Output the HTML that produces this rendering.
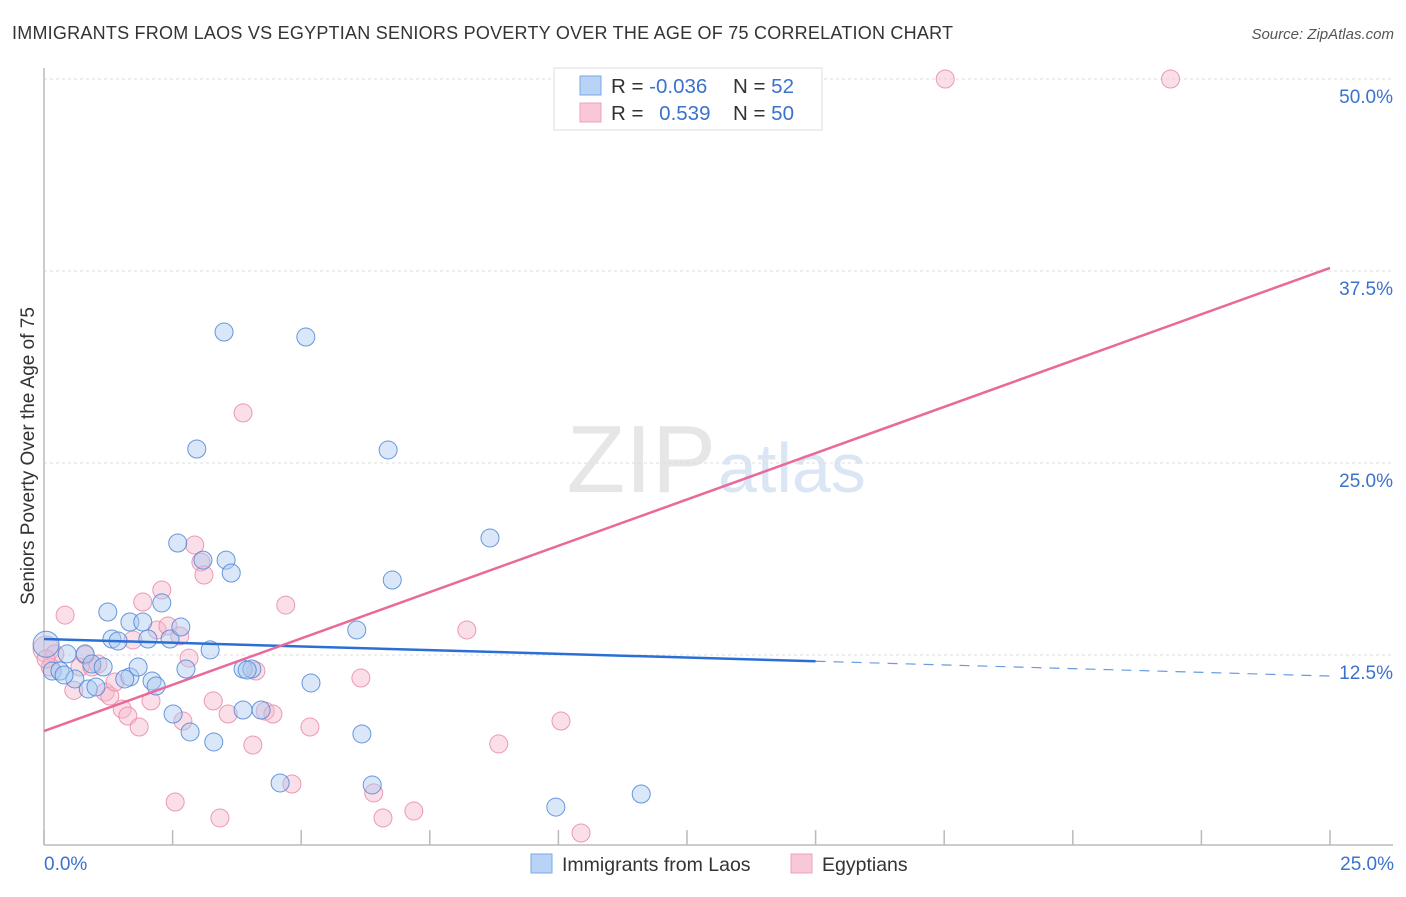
<!DOCTYPE html>
<html><head><meta charset="utf-8"><style>
body{margin:0;background:#fff;font-family:"Liberation Sans",sans-serif;}
svg text{font-family:"Liberation Sans",sans-serif;}
</style></head><body>
<svg id="chart" width="1406" height="892">
<text x="12" y="39" font-size="18" fill="#333" textLength="941">IMMIGRANTS FROM LAOS VS EGYPTIAN SENIORS POVERTY OVER THE AGE OF 75 CORRELATION CHART</text>
<text x="1394" y="39" font-size="15" fill="#555" font-style="italic" text-anchor="end">Source: ZipAtlas.com</text>
<text x="716" y="492" font-size="96" fill="#e6e6e6" text-anchor="end" font-family="Liberation Serif">ZIP</text>
<text x="718" y="492" font-size="70" fill="#dbe6f4">atlas</text>
<g id="grid"></g>
<g id="axes"></g>
<g id="pts"></g>
<g id="lines"></g>
<text transform="translate(34,456) rotate(-90)" font-size="19" fill="#333" text-anchor="middle">Seniors Poverty Over the Age of 75</text>
<text x="44" y="870" font-size="19" fill="#3a72cc">0.0%</text>
<text x="1394" y="870" font-size="19" fill="#3a72cc" text-anchor="end">25.0%</text>
<g>
<rect x="554" y="68" width="268" height="62" fill="#fff" stroke="#ddd"/>
<rect x="580" y="76" width="21" height="19" fill="#b8d3f5" stroke="#7aaae8"/>
<rect x="580" y="103" width="21" height="19" fill="#f9c8d7" stroke="#eea2b9"/>
<text x="611" y="93" font-size="20.5" fill="#333">R = <tspan fill="#3a72cc">-0.036</tspan></text>
<text x="733" y="93" font-size="20.5" fill="#333">N = <tspan fill="#3a72cc">52</tspan></text>
<text x="611" y="120" font-size="20.5" fill="#333">R = <tspan fill="#3a72cc" dx="10">0.539</tspan></text>
<text x="733" y="120" font-size="20.5" fill="#333">N = <tspan fill="#3a72cc">50</tspan></text>
</g>
<g>
<rect x="531" y="854" width="21" height="19" fill="#b8d3f5" stroke="#7aaae8"/>
<text x="562" y="871" font-size="19.5" fill="#333">Immigrants from Laos</text>
<rect x="791" y="854" width="21" height="19" fill="#f9c8d7" stroke="#eea2b9"/>
<text x="822" y="871" font-size="19.5" fill="#333">Egyptians</text>
</g>
</svg>
<script>
const yTicks=[12.5,25,37.5,50];
const yTickLabels=["12.5%","25.0%","37.5%","50.0%"];
const xTicks=[0,2.5,5,7.5,10,12.5,15,17.5,20,22.5,25];
const laosX=[0.04,0.16,0.31,0.6,0.45,0.8,0.93,1.15,0.86,1.24,1.32,1.44,1.67,1.67,1.57,1.83,1.92,2.02,2.1,2.18,2.29,2.45,2.6,2.66,2.76,2.51,2.84,2.97,3.09,3.23,3.3,3.5,3.54,3.64,3.87,3.87,4.04,4.22,4.59,5.09,5.19,6.08,6.18,6.38,6.69,6.77,8.67,9.95,11.61,1.01,0.39,3.95];
const laosY=[13.2,11.46,11.46,10.94,12.57,12.57,11.91,11.72,10.29,15.3,13.54,13.41,14.65,11.07,10.94,11.72,14.65,13.54,10.81,10.48,15.89,13.54,19.79,14.32,11.59,8.66,7.49,25.91,18.68,12.83,6.84,33.53,18.68,17.84,11.59,8.92,11.59,8.92,4.17,33.2,10.68,14.13,7.36,4.04,25.85,17.38,20.12,2.6,3.45,10.42,11.2,11.52];
const egX=[0.04,0.21,0.12,0.41,0.58,0.7,0.93,1.05,1.19,1.28,1.38,1.52,1.63,1.85,1.73,1.92,2.08,2.2,2.29,2.41,2.55,2.64,2.7,2.82,2.93,3.05,3.11,3.29,3.42,3.58,3.87,4.06,4.12,4.3,4.45,4.7,4.82,5.17,6.16,6.41,6.59,7.19,8.22,8.84,10.05,10.44,17.52,21.9,0.04,0.8];
const egY=[12.89,12.57,11.72,15.1,10.2,11.72,11.72,11.91,10.09,9.83,10.74,8.98,8.53,7.81,13.48,15.95,9.51,14.13,16.73,14.39,2.93,13.74,8.2,12.3,19.66,18.55,17.71,9.51,1.89,8.66,28.26,6.64,11.46,8.85,8.66,15.75,4.1,7.81,11.0,3.52,1.89,2.34,14.13,6.71,8.2,0.91,50.0,50.0,12.24,12.5];
const trendIntercept=[13.54,7.55];
const trendSlope=[-0.0964,1.206];
const solidEnd=[15.0,25];
const X0=44,X1=1330,Y0=847,PXY=192/12.5;
const sx=v=>X0+v/25*(X1-X0), sy=v=>Y0-v*PXY;
const NS="http://www.w3.org/2000/svg";
function mk(p,t,a){const e=document.createElementNS(NS,t);for(const k in a)e.setAttribute(k,a[k]);p.appendChild(e);return e;}
const grid=document.getElementById('grid'),axes=document.getElementById('axes'),pts=document.getElementById('pts'),lines=document.getElementById('lines');
yTicks.forEach((v,i)=>{
 const g=mk(grid,'line',{x1:44,x2:1393,y1:sy(v),y2:sy(v),stroke:'#ddd','stroke-dasharray':'3,3'});
 
 
 const t=mk(grid,'text',{x:1393,y:sy(v)+24,'font-size':19,fill:'#3a72cc','text-anchor':'end'});
 t.textContent=yTickLabels[i];
 
 
});
const ax=mk(axes,'line',{x1:44,x2:1393,y1:845,y2:845,stroke:'#bbb','stroke-width':1.5});


const ay=mk(axes,'line',{x1:44,x2:44,y1:68,y2:845,stroke:'#bbb','stroke-width':1.5});


xTicks.forEach(v=>{
 const l=mk(axes,'line',{x1:sx(v),x2:sx(v),y1:830,y2:845,stroke:'#bbb','stroke-width':1.5});
 
 
});
function dots(xs,ys,fill,stroke,name){xs.forEach((x,i)=>{
 const c=mk(pts,'circle',{cx:sx(x),cy:sy(ys[i]),r:(i===0&&x<0.1)?13:9,fill:fill,'fill-opacity':0.45,stroke:stroke,'stroke-width':1,'stroke-opacity':0.85});
 
 
});}
dots(egX,egY,'#f7b8cb','#e98aa7','egyptians-point');
dots(laosX,laosY,'#aac9f0','#4f86d8','laos-point');
const cols=['#2b6fd6','#e8699a'],names=['laos-trendline','egyptians-trendline'];
for(let k=0;k<2;k++){
 const f=x=>trendIntercept[k]+trendSlope[k]*x;
 const l=mk(lines,'line',{x1:sx(0),y1:sy(f(0)),x2:sx(solidEnd[k]),y2:sy(f(solidEnd[k])),stroke:cols[k],'stroke-width':2.5});
 
 
 if(solidEnd[k]<25){
  const d=mk(lines,'line',{x1:sx(solidEnd[k]),y1:sy(f(solidEnd[k])),x2:sx(25),y2:sy(f(25)),stroke:cols[k],'stroke-width':1.2,'stroke-dasharray':'10,8','stroke-opacity':0.7});
  
  
 }
}
</script>
</body></html>
